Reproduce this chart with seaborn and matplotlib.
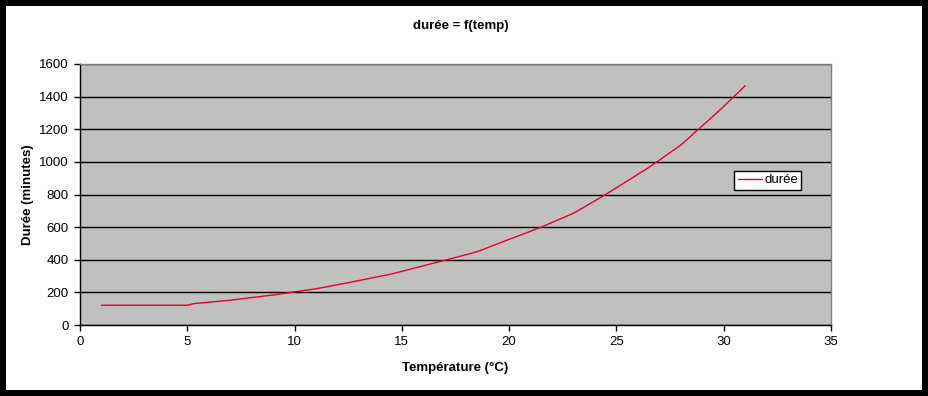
import matplotlib
matplotlib.use("Agg")
import matplotlib.pyplot as plt
import seaborn as sns
import pandas as pd
from matplotlib.patches import Rectangle

# temperature (°C) and duration (minutes)
temperature = [1, 5, 5.3, 7, 9, 11, 12.6, 14.5, 17.1, 18.5, 20, 21.5, 23, 24.5, 26.5, 28, 29.8, 31]
duree = [121, 121, 131, 152, 184, 222, 262, 312, 400, 449, 525, 600, 685, 800, 965, 1103, 1315, 1467]

df = pd.DataFrame({"temp": temperature, "durée": duree})

sns.set_style("white")
plt.rcParams['font.family'] = ['Liberation Sans', 'DejaVu Sans']
plt.rcParams['text.color'] = 'black'
plt.rcParams['axes.labelcolor'] = 'black'

W, H = 929, 396
fig = plt.figure(figsize=(W / 100, H / 100), dpi=100, facecolor="black")
# white chart area inside the black frame
fig.patches.append(Rectangle((6 / W, 6 / H), (922 - 6) / W, (390 - 6) / H,
                             transform=fig.transFigure, facecolor="white",
                             edgecolor="none", zorder=-5))

ax = fig.add_axes([80 / W, (H - 325) / H, (831 - 80) / W, (325 - 64) / H])
ax.set_zorder(1)
ax.set_facecolor("#C0C0C0")

sns.lineplot(data=df, x="temp", y="durée", ax=ax, color="#E8002A",
             linewidth=1, label="durée")

ax.set_xlim(0, 35)
ax.set_ylim(0, 1600)
ax.set_xticks(range(0, 36, 5))
ax.set_yticks(range(0, 1601, 200))
ax.yaxis.grid(True, color="black", linewidth=1)
ax.set_axisbelow(True)
ax.tick_params(direction="out", length=4, width=1, colors="black", labelsize=9.5, pad=4)
ax.tick_params(axis="both", left=True, bottom=True)

for s in ["left", "bottom"]:
    ax.spines[s].set_color("black")
    ax.spines[s].set_linewidth(1)
for s in ["top", "right"]:
    ax.spines[s].set_color("#808080")
    ax.spines[s].set_linewidth(1)

ax.set_xlabel("Température (°C)", fontsize=9.5, fontweight="bold", labelpad=10)
ax.set_ylabel("Durée (minutes)", fontsize=9.5, fontweight="bold", labelpad=4)
fig.text(461 / W, 1 - 26 / H, "durée = f(temp)", ha="center", va="center",
         fontsize=9.5, fontweight="bold")

leg = ax.legend(loc="center", bbox_to_anchor=(0.916, 0.555), frameon=True,
                fancybox=False, fontsize=9.5, handlelength=1.8, handletextpad=0.2,
                borderpad=0.25, borderaxespad=0)
leg.get_frame().set_edgecolor("black")
leg.get_frame().set_facecolor("white")
leg.get_frame().set_linewidth(1)
leg.get_frame().set_alpha(1)

fig.savefig("out.png", dpi=100, facecolor="black")
